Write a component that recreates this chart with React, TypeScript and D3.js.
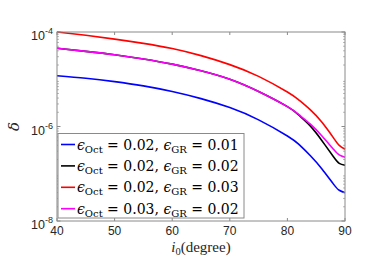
import * as d3 from 'd3';

const W = 389;
const H = 275;
const M = {left: 57, right: 44, top: 32, bottom: 54};

// inclination angles (degree)
const incl = [40, 45, 50, 55, 60, 65, 70, 75, 80, 82, 84, 86, 88, 89, 90];

// delta for each parameter pair
const blue = [1.19e-5, 1.05e-5, 8.91e-6, 7.24e-6, 5.5e-6, 3.89e-6, 2.51e-6, 1.38e-6, 6.31e-7, 4.17e-7, 2.4e-7, 1.26e-7, 6.03e-8, 4.47e-8, 3.98e-8];
const black = [4.52e-5, 3.89e-5, 3.31e-5, 2.69e-5, 2.09e-5, 1.51e-5, 1.0e-5, 5.5e-6, 2.63e-6, 1.74e-6, 1.02e-6, 5.01e-7, 2.29e-7, 1.66e-7, 1.51e-7];
const red = [1.0e-4, 8.51e-5, 7.08e-5, 5.75e-5, 4.47e-5, 3.16e-5, 2.04e-5, 1.15e-5, 5.37e-6, 3.63e-6, 2.24e-6, 1.23e-6, 5.75e-7, 3.98e-7, 3.31e-7];
const magenta = [4.52e-5, 3.89e-5, 3.31e-5, 2.69e-5, 2.09e-5, 1.51e-5, 1.0e-5, 5.5e-6, 2.63e-6, 1.78e-6, 1.12e-6, 6.31e-7, 3.31e-7, 2.51e-7, 2.24e-7];

const epsOct = ['0.02', '0.02', '0.02', '0.03'];
const epsGR = ['0.01', '0.02', '0.03', '0.02'];
const seriesColors = ['#0000ff', '#000000', '#ff0000', '#ff00ff'];
const seriesValues = [blue, black, red, magenta];

const xTicks = [40, 50, 60, 70, 80, 90];
const yTicks = [-8, -6, -4];

const axisColor = '#8a8a8a';
const textColor = '#262626';

export default function App() {
  const x = d3.scaleLinear().domain([40, 90]).range([M.left, W - M.right]);
  const y = d3.scaleLog().domain([1e-8, 1e-4]).range([H - M.bottom, M.top]);

  const line = d3
    .line<[number, number]>()
    .x((d) => x(d[0]))
    .y((d) => y(d[1]))
    .curve(d3.curveNatural);

  const minor: number[] = [];
  for (let e = -8; e < -4; e++) {
    for (let k = 2; k <= 9; k++) minor.push(k * Math.pow(10, e));
  }

  const x0 = M.left;
  const x1 = W - M.right;
  const y0 = H - M.bottom;
  const y1 = M.top;

  const legX = 58;
  const legY = 133.5;
  const legW = 186;
  const legH = 84.5;
  const rowH = 21.4;

  return (
    <svg width={W} height={H} style={{position: 'absolute', left: 0, top: 0}}>
      <rect x={0} y={0} width={W} height={H} fill="#fff" />
      {seriesValues.map((vals, i) => (
        <path
          key={i}
          d={line(incl.map((d, j) => [d, vals[j]] as [number, number]))!}
          fill="none"
          stroke={seriesColors[i]}
          strokeWidth={1.6}
        />
      ))}
      <rect x={x0} y={y1} width={x1 - x0} height={y0 - y1} fill="none" stroke={axisColor} strokeWidth={1} />
      {xTicks.map((t) => (
        <g key={t}>
          <line x1={x(t)} x2={x(t)} y1={y0} y2={y0 - 3} stroke={axisColor} />
          <line x1={x(t)} x2={x(t)} y1={y1} y2={y1 + 3} stroke={axisColor} />
          <text x={x(t)} y={y0 + 14} textAnchor="middle" fontFamily="Liberation Sans, Arial, sans-serif" fontSize={12} fill={textColor}>
            {t}
          </text>
        </g>
      ))}
      {minor.map((m, i) => (
        <g key={i}>
          <line x1={x0} x2={x0 + 2} y1={y(m)} y2={y(m)} stroke={axisColor} strokeWidth={0.6} />
          <line x1={x1} x2={x1 - 2} y1={y(m)} y2={y(m)} stroke={axisColor} strokeWidth={0.6} />
        </g>
      ))}
      {yTicks.map((e) => (
        <g key={e}>
          <line x1={x0} x2={x0 + 3.5} y1={y(Math.pow(10, e))} y2={y(Math.pow(10, e))} stroke={axisColor} />
          <line x1={x1} x2={x1 - 3.5} y1={y(Math.pow(10, e))} y2={y(Math.pow(10, e))} stroke={axisColor} />
          <text x={x0 - 4} y={y(Math.pow(10, e)) + 8} textAnchor="end" fontFamily="Liberation Sans, Arial, sans-serif" fontSize={12.5} fill={textColor}>
            10
            <tspan dy={-6} fontSize={9}>{e}</tspan>
          </text>
        </g>
      ))}
      <text
        transform={`translate(19,${(y0 + y1) / 2}) rotate(-90)`}
        textAnchor="middle"
        fontFamily="DejaVu Serif, serif"
        fontStyle="italic"
        fontSize={15}
        fill={textColor}
      >
        δ
      </text>
      <text x={(x0 + x1) / 2} y={251.5} textAnchor="middle" fontFamily="Liberation Serif, serif" fontSize={15} fill={textColor}>
        <tspan fontStyle="italic">i</tspan>
        <tspan fontSize={10.5} dy={3}>0</tspan>
        <tspan dy={-3}>(degree)</tspan>
      </text>
      <g>
        <rect x={legX} y={legY} width={legW} height={legH} fill="#fff" stroke={axisColor} strokeWidth={1} />
        {seriesColors.map((c, i) => {
          const cy = legY + 11 + i * rowH;
          return (
            <g key={i}>
              <line x1={legX + 3} x2={legX + 17} y1={cy} y2={cy} stroke={c} strokeWidth={1.6} />
              <text x={legX + 19} y={cy + 5} fontFamily="DejaVu Serif, serif" fontSize={14} fill="#000">
                <tspan fontStyle="italic">ϵ</tspan>
                <tspan fontSize={10} dy={3}>Oct</tspan>
                <tspan dy={-3}>{` = ${epsOct[i]}, `}</tspan>
                <tspan fontStyle="italic">ϵ</tspan>
                <tspan fontSize={10} dy={3}>GR</tspan>
                <tspan dy={-3}>{` = ${epsGR[i]}`}</tspan>
              </text>
            </g>
          );
        })}
      </g>
    </svg>
  );
}
